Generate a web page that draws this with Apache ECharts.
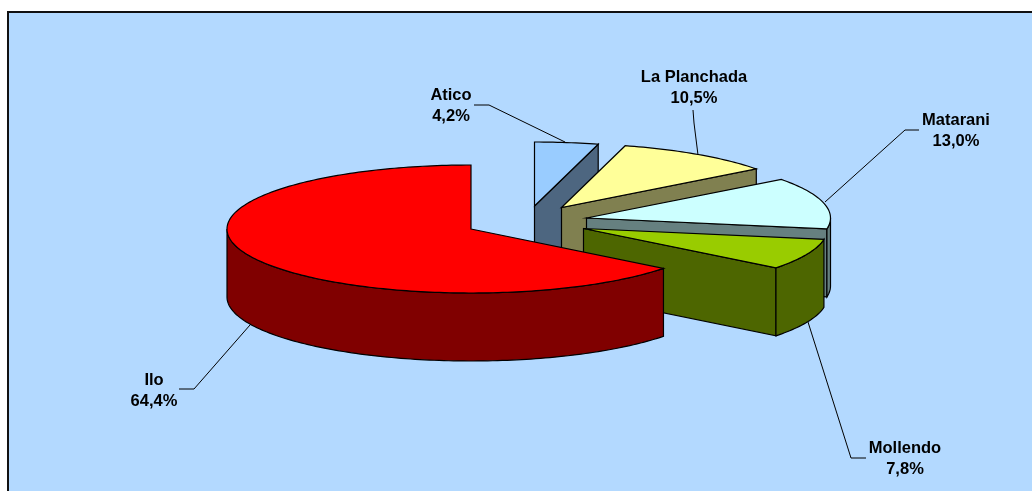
<!DOCTYPE html>
<html><head><meta charset="utf-8">
<style>html,body{margin:0;padding:0;background:#fff}#c{width:1032px;height:491px}</style>
<script src="https://cdn.jsdelivr.net/npm/echarts@6/dist/echarts.min.js"></script>
</head><body><div id="c"></div>
<script>
// Data, clockwise from 12 o'clock, back to front
const categories = ['Atico', 'La Planchada', 'Matarani', 'Mollendo', 'Ilo'];
const values = [4.2, 10.5, 13.0, 7.8, 64.4];
// Styles
const topColors = ['#99CCFF', '#FFFF99', '#CCFFFF', '#99CC00', '#FF0000'];
const sideColors = ['#4D6680', '#808050', '#668080', '#4D6600', '#800000'];
// Pie projection: ellipse radii, extrusion depth, and per-slice explosion centre
const RX = 244, RY = 64, DEPTH = 68;
const explodeCenters = [[534.5, 206], [561.5, 207.5], [586.5, 218], [583.5, 228.5], [471, 229]];
// Label placement, same order as categories
const labelCenters = [[451, 95], [694, 77], [956, 120], [905, 448], [154, 380]];
const leaders = [
  [[474, 105], [489, 105], [565, 142]],
  [[693, 110], [694, 123], [698, 155]],
  [[919, 130], [905, 130], [825, 202]],
  [[866, 458], [851, 458], [808, 322]],
  [[179, 389], [194, 389], [250, 325]]
];
const total = values.reduce((a, b) => a + b, 0);
const pct = v => v.toFixed(1).replace('.', ',') + '%';
const toAngle = v => v / total * 2 * Math.PI;

function pt(c, a, dz) {
  return [c[0] + RX * Math.sin(a), c[1] - RY * Math.cos(a) + (dz || 0)];
}
function arc(c, a0, a1, dz) {
  const n = Math.max(2, Math.ceil(Math.abs(a1 - a0) / 0.02));
  const out = [];
  for (let i = 0; i <= n; i++) out.push(pt(c, a0 + (a1 - a0) * i / n, dz));
  return out;
}
function renderItem(params, api) {
  const i = params.dataIndex;
  let before = 0;
  for (let k = 0; k < i; k++) before += values[k];
  const a0 = toAngle(before), a1 = a0 + toAngle(api.value(0));
  const c = explodeCenters[i];
  const stroke = { stroke: '#000', lineWidth: 1.2 };
  const children = [];
  // End radial face: faces the viewer only while the slice ends in the first half turn
  if (a1 < Math.PI) {
    const e = pt(c, a1);
    children.push({ type: 'polygon', shape: { points: [c, e, [e[0], e[1] + DEPTH], [c[0], c[1] + DEPTH]] },
      style: Object.assign({ fill: sideColors[i] }, stroke) });
  }
  // Visible outer wall: the part of the rim between 90 and 270 degrees
  const w0 = Math.max(a0, Math.PI / 2), w1 = Math.min(a1, Math.PI * 1.5);
  if (w1 > w0) {
    const pts = arc(c, w0, w1, 0).concat(arc(c, w1, w0, DEPTH));
    children.push({ type: 'polygon', shape: { points: pts }, style: Object.assign({ fill: sideColors[i] }, stroke) });
  }
  // Top face
  children.push({ type: 'polygon', shape: { points: [c].concat(arc(c, a0, a1, 0)) },
    style: Object.assign({ fill: topColors[i] }, stroke) });
  return { type: 'group', children };
}
const chart = echarts.init(document.getElementById('c'), null, { renderer: 'canvas' });
const font = 'bold 16.5px "Liberation Sans", Arial, sans-serif';
const labelItems = [];
categories.forEach((name, i) => {
  const lc = labelCenters[i];
  labelItems.push({ type: 'polyline', z: 20, silent: true, shape: { points: leaders[i] }, style: { stroke: '#000', lineWidth: 1, fill: null } });
  labelItems.push({ type: 'text', z: 21, silent: true, x: lc[0], y: lc[1], style: { text: name, font, fill: '#000', align: 'center', verticalAlign: 'middle' } });
  labelItems.push({ type: 'text', z: 21, silent: true, x: lc[0], y: lc[1] + 21, style: { text: pct(values[i]), font, fill: '#000', align: 'center', verticalAlign: 'middle' } });
});
chart.setOption({
  animation: false,
  backgroundColor: '#FFFFFF',
  graphic: [{ type: 'rect', z: -10, silent: true, shape: { x: 8, y: 12, width: 1040, height: 500 },
      style: { fill: '#B3D9FF', stroke: '#111', lineWidth: 2 } }].concat(labelItems),
  series: [{
    type: 'custom', coordinateSystem: 'none', renderItem, silent: true, z: 5,
    data: categories.map((name, i) => ({ name, value: values[i] }))
  }]
});
</script></body></html>
